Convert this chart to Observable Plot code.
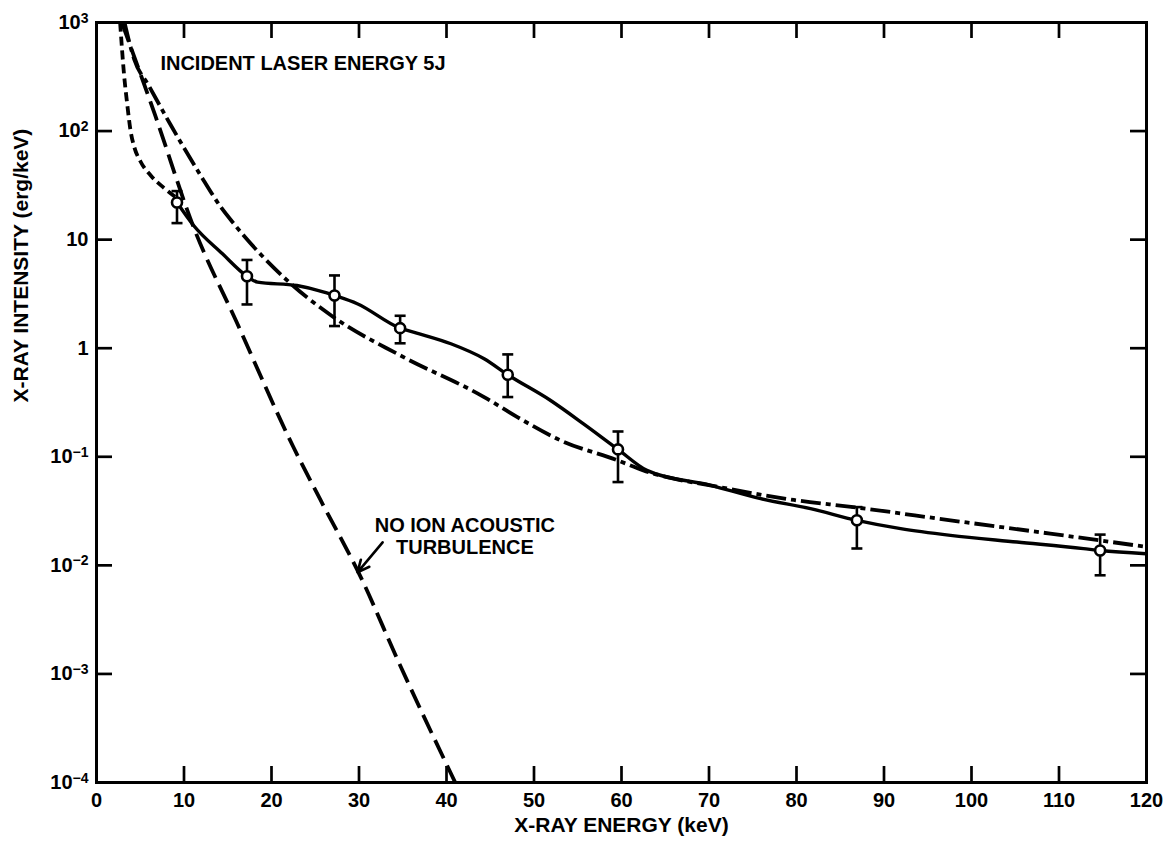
<!DOCTYPE html>
<html><head><meta charset="utf-8">
<script src="https://cdn.jsdelivr.net/npm/d3@7"></script>
<script src="https://cdn.jsdelivr.net/npm/@observablehq/plot@0.6"></script>
<style>
html,body{margin:0;padding:0;background:#fff;}
#chart svg{display:block;}
</style></head><body><div id="chart"></div>
<script>
// ---- tick values and labels ----
const xTickValues = [0,10,20,30,40,50,60,70,80,90,100,110,120];
const xInnerTicks = [10,20,30,40,50,60,70,80,90,100,110];
const yTickValues = [1e-4,1e-3,1e-2,1e-1,1,10,100,1000];
const yTickBase = ["10","10","10","10","1","10","10","10"];
const yTickExp  = ["−4","−3","−2","−1","","","2","3"];
const yInnerTicks = [1e-3,1e-2,1e-1,1,10,100];

// ---- measured points with error bars ----
const pointE  = [9.2, 17.2, 27.2, 34.7, 47.0, 59.6, 86.9, 114.7];
const pointV  = [22, 4.6, 3.06, 1.53, 0.57, 0.117, 0.026, 0.0137];
const pointHi = [28, 6.5, 4.68, 1.99, 0.877, 0.171, 0.0344, 0.0192];
const pointLo = [14.2, 2.53, 1.60, 1.11, 0.355, 0.0585, 0.0143, 0.0081];

// ---- solid curve through data ----
const solidE = [9.2,11.1,14.4,17.2,18.4,22.9,26,27.2,29.8,34.7,36.6,40.5,44.3,47,51.9,55.7,59.6,62.9,70.2,75.9,81.6,86.9,91.9,97.6,105.2,112.8,114.7,120];
const solidV = [22,13.5,7.4,4.6,4.06,3.78,3.29,3.06,2.57,1.53,1.38,1.10,0.80,0.57,0.33,0.20,0.117,0.075,0.0546,0.0411,0.0333,0.026,0.0218,0.0189,0.0164,0.01425,0.0137,0.0128];

// ---- dash-dot curve ----
const dashDotE = [3.2,4.3,6,8.5,11.9,14.2,15.7,21.4,27.1,34.7,44.3,48.1,53,59.5,62.5,72.1,79.7,86.5,97.6,109,120];
const dashDotV = [1000,460,260,113,39,20,14,4.5,1.93,0.86,0.355,0.232,0.142,0.093,0.075,0.051,0.040,0.0344,0.026,0.0196,0.0148];

// ---- long-dash curve (no ion acoustic turbulence) ----
const longDashE = [2.9,6.7,11.1,16,22.5,25.6,30.2,34.5,41];
const longDashV = [1000,140,13,1.75,0.123,0.040,0.0078,0.0013,0.0001];

// ---- short-dash curve ----
const shortDashE = [2.7,3.15,3.5,3.9,4.3,5.0,6.2,7.7,9.2];
const shortDashV = [1000,330,180,100,72,53,39,30,24];

// ---- annotations ----
const titleText = ["INCIDENT LASER ENERGY 5J"];
const titlePos = [7.3, 419];
const noteText = ["NO ION ACOUSTIC\nTURBULENCE"];
const notePos = [42.1, 0.0185];
const arrowFrom = [32.7, 0.0163];
const arrowTo = [29.83, 0.00863];
const xTitle = ["X-RAY ENERGY (keV)"];
const yTitle = ["X-RAY INTENSITY (erg/keV)"];

// ---- build tables ----
const zipLine = (E, V) => E.map((e, i) => ({e, v: V[i]}));
const points = pointE.map((e, i) => ({e, v: pointV[i], hi: pointHi[i], lo: pointLo[i]}));
const labelFor = new Map(yTickValues.map((t, i) => [t, yTickBase[i] + yTickExp[i]]));
const splitFor = new Map(yTickValues.map((t, i) => [yTickBase[i] + yTickExp[i], [yTickBase[i], yTickExp[i]]]));

const W = 1175, H = 848, mL = 96, mR = 29, mT = 22, mB = 66;
const frameW = W - mL - mR, frameH = H - mT - mB, tickLen = 16;
const FONT = "'Liberation Sans', Arial, Helvetica, sans-serif";

const capSymbol = {draw(ctx, size) { const r = Math.sqrt(size / Math.PI); ctx.moveTo(-r, 0); ctx.lineTo(r, 0); }};

const lineStyle = {x: "e", y: "v", stroke: "black", strokeWidth: 3.8, curve: "monotone-x", clip: true, strokeLinecap: "butt"};

const chart = Plot.plot({
  width: W, height: H,
  marginLeft: mL, marginRight: mR, marginTop: mT, marginBottom: mB,
  style: {fontFamily: FONT, fontWeight: "bold", fontSize: "20px", color: "black", background: "white"},
  x: {domain: [0, 120]},
  y: {type: "log", domain: [1e-4, 1e3]},
  marks: [
    Plot.axisX(xTickValues, {anchor: "bottom", tickSize: 0, tickPadding: 10, label: null, fontSize: 20, fontWeight: "bold"}),
    Plot.axisY(yTickValues, {anchor: "left", tickSize: 0, tickPadding: 8, label: null, tickFormat: d => labelFor.get(d), fontSize: 20, fontWeight: "bold"}),
    Plot.ruleX(xInnerTicks, {x: d => d, insetTop: frameH - tickLen, strokeWidth: 2.7}),
    Plot.ruleX(xInnerTicks, {x: d => d, insetBottom: frameH - tickLen, strokeWidth: 2.7}),
    Plot.ruleY(yInnerTicks, {y: d => d, insetRight: frameW - tickLen, strokeWidth: 2.7}),
    Plot.ruleY(yInnerTicks, {y: d => d, insetLeft: frameW - tickLen, strokeWidth: 2.7}),
    Plot.frame({stroke: "black", strokeWidth: 3}),
    Plot.line(zipLine(longDashE, longDashV), {...lineStyle, strokeDasharray: "20,8"}),
    Plot.line(zipLine(shortDashE, shortDashV), {...lineStyle, strokeDasharray: "9,5"}),
    Plot.line(zipLine(dashDotE, dashDotV), {...lineStyle, strokeDasharray: "20,5,5,5"}),
    Plot.line(zipLine(solidE, solidV), {...lineStyle, strokeWidth: 3.4}),
    Plot.ruleX(points, {x: "e", y1: "lo", y2: "hi", stroke: "black", strokeWidth: 2.6}),
    Plot.dot(points, {x: "e", y: "hi", symbol: capSymbol, r: 5.5, stroke: "black", strokeWidth: 2.6, fill: "none"}),
    Plot.dot(points, {x: "e", y: "lo", symbol: capSymbol, r: 5.5, stroke: "black", strokeWidth: 2.6, fill: "none"}),
    Plot.dot(points, {x: "e", y: "v", r: 5, stroke: "black", strokeWidth: 2.6, fill: "white"}),
    Plot.text(titleText, {x: () => titlePos[0], y: () => titlePos[1], text: d => d, textAnchor: "start", fontSize: 20, fontWeight: "bold", fill: "black"}),
    Plot.text(noteText, {x: () => notePos[0], y: () => notePos[1], text: d => d, textAnchor: "middle", lineHeight: 1.1, fontSize: 20, fontWeight: "bold", fill: "black"}),
    Plot.arrow([0], {x1: () => arrowFrom[0], y1: () => arrowFrom[1], x2: () => arrowTo[0], y2: () => arrowTo[1], stroke: "black", strokeWidth: 2.6, headLength: 10, headAngle: 50}),
    Plot.text(xTitle, {frameAnchor: "bottom", dy: 49, text: d => d, fontSize: 21, fontWeight: "bold", fill: "black"}),
    Plot.text(yTitle, {frameAnchor: "left", dx: -75, rotate: -90, text: d => d, fontSize: 21, fontWeight: "bold", fill: "black"})
  ]
});

// turn exponent parts of y tick labels into real superscripts
d3.select(chart).selectAll('g[aria-label="y-axis tick label"] text').each(function () {
  const parts = splitFor.get(this.textContent);
  if (!parts || !parts[1]) return;
  const t = d3.select(this);
  t.text(null);
  t.append("tspan").text(parts[0]);
  t.append("tspan").attr("dy", "-0.45em").attr("font-size", 14).text(parts[1]);
});
document.getElementById("chart").appendChild(chart);
</script>
</body></html>
